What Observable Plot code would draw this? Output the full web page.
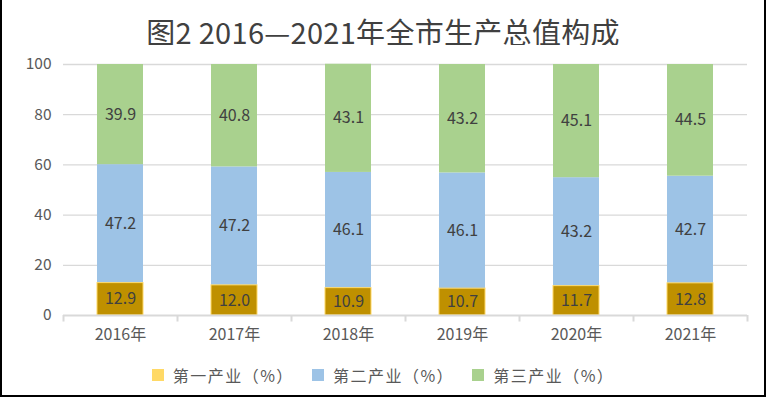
<!DOCTYPE html>
<html><head><meta charset="utf-8">
<script src="https://cdn.jsdelivr.net/npm/d3@7"></script>
<script src="https://cdn.jsdelivr.net/npm/@observablehq/plot@0.6"></script>
<style>
html,body{margin:0;padding:0;background:#fff;}
#frame{position:relative;width:766px;height:397px;box-sizing:border-box;border-left:2px solid #000;border-right:2px solid #000;border-bottom:2px solid #000;overflow:hidden;font-family:"Noto Sans CJK SC","Noto Sans",sans-serif;}
#title{position:absolute;left:0;right:0;top:11px;text-align:center;font-size:29px;color:#404040;line-height:40px;letter-spacing:0.3px;}
#chart{position:absolute;left:0;top:45px;}
#legend{position:absolute;left:0;right:0;top:363px;display:flex;justify-content:center;gap:18px;font-size:16px;color:#595959;line-height:24px;letter-spacing:1.5px;}
.item{display:flex;align-items:center;}
.sw{width:12px;height:12px;margin-right:9px;}
</style></head>
<body>
<div id="frame">
<div id="title">图2 2016—2021年全市生产总值构成</div>
<div id="chart"></div>
<div id="legend"></div>
</div>
<script>
const years = ["2016年","2017年","2018年","2019年","2020年","2021年"];
const seriesNames = ["第一产业（%）","第二产业（%）","第三产业（%）"];
const primary = [12.9,12.0,10.9,10.7,11.7,12.8];
const secondary = [47.2,47.2,46.1,46.1,43.2,42.7];
const tertiary = [39.9,40.8,43.1,43.2,45.1,44.5];
const yTicks = [0,20,40,60,80,100];
const barColors = ["#BF9000","#9DC3E6","#A9D18E"];
const legendColors = ["#FFD966","#9DC3E6","#A9D18E"];

const values = [primary, secondary, tertiary];
const data = [];
years.forEach((y,i)=>{
  seriesNames.forEach((s,j)=>{ data.push({year:y, series:s, value:values[j][i]}); });
});

const W = 762, H = 305, mL = 61, mR = 17, mT = 19, mB = 35;
const step = (W - mL - mR) / years.length;

const plot = Plot.plot({
  width: W, height: H,
  marginLeft: mL, marginRight: mR, marginTop: mT, marginBottom: mB,
  style: {fontFamily: '"Noto Sans CJK SC","Noto Sans",sans-serif', fontSize: "15px", color: "#595959", background: "#fff"},
  x: {domain: years, paddingInner: 0.6, paddingOuter: 0.3, label: null},
  y: {domain: [0,100], ticks: yTicks, label: null},
  color: {domain: seriesNames, range: barColors},
  marks: [
    Plot.ruleY(yTicks.filter(t=>t>0), {stroke:"#d9d9d9", strokeWidth:1.3, strokeOpacity:1}),
    Plot.barY(data, {x:"year", y:"value", fill:"series", z:"series"}),
    Plot.barY(data.filter(d=>d.series===seriesNames[0]), {x:"year", y:"value", fill:"none", stroke:"#FFD966", strokeWidth:1}),
    Plot.ruleY([0], {stroke:"#d9d9d9", strokeWidth:2}),
    Plot.ruleX(years, {x:d=>d, y1:0, y2:-2.6, dx:-step/2, stroke:"#d9d9d9", strokeWidth:2, clip:false}),
    Plot.ruleX([years[years.length-1]], {x:d=>d, y1:0, y2:-2.6, dx:step/2, stroke:"#d9d9d9", strokeWidth:2, clip:false}),
    Plot.text(data, Plot.stackY({x:"year", y:"value", z:"series", text:d=>d.value.toFixed(1), fill:"#404040", fontSize:16})),
    Plot.axisY({ticks: yTicks, tickSize:0, tickPadding:12, fontSize:15.5, fill:"#595959"}),
    Plot.axisX({tickSize:0, tickPadding:13, fontSize:16, fill:"#595959"})
  ]
});
document.getElementById("chart").appendChild(plot);

const lg = document.getElementById("legend");
seriesNames.forEach((s,i)=>{
  const it = document.createElement("div"); it.className="item";
  const sw = document.createElement("div"); sw.className="sw"; sw.style.background = legendColors[i];
  const tx = document.createElement("span"); tx.textContent = s;
  it.appendChild(sw); it.appendChild(tx); lg.appendChild(it);
});
</script>
</body></html>
